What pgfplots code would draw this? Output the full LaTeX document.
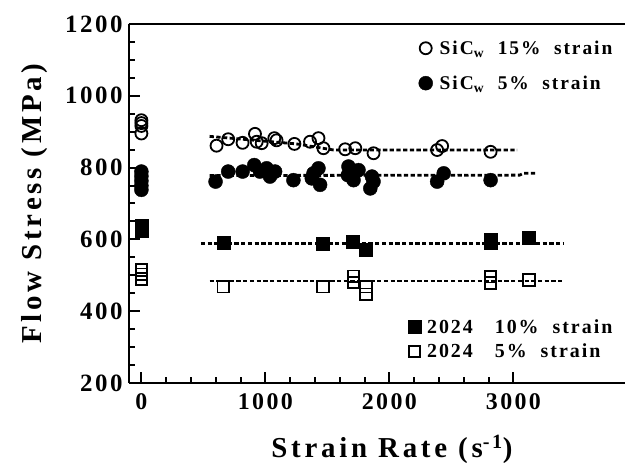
\documentclass[border=0pt]{standalone}
\usepackage{fontspec}
\setmainfont{Liberation Serif}[LetterSpace=10]
\newfontfamily\tickfont{Liberation Serif}[LetterSpace=10]
\newfontfamily\labfont{Liberation Serif}[LetterSpace=13]
\usepackage{pgfplots}
\pgfplotsset{compat=1.18}
\begin{document}
\begin{tikzpicture}
\pgfplotsset{
  base/.style={
    scale only axis, width=496bp, height=359bp,
    xmin=-100, xmax=3900, ymin=200, ymax=1200,
    at={(0,0)}, anchor=south west,
  },
  dline/.style={forget plot, black, line width=2.8bp, dash pattern=on 4.3bp off 2.4bp},
}
\begin{axis}[base,
  axis x line=box, axis y line=left,
  axis line style={-, line width=2.4bp},
  xtick={0,1000,2000,3000}, minor x tick num=4,
  ytick={200,400,...,1200}, minor y tick num=3,
  xtick pos=left, ytick pos=left,
  tick align=inside,
  major tick length=11bp, minor tick length=6bp,
  every tick/.style={black, line width=2bp},
  /pgf/number format/assume math mode=true,
  /pgf/number format/1000 sep={},
  xticklabel style={font=\fontsize{24}{24}\selectfont\tickfont\bfseries, yshift=-7bp},
  yticklabel style={font=\fontsize{25}{25}\selectfont\tickfont\bfseries, xshift=-3bp},
  label style={font=\fontsize{29}{29}\selectfont\labfont\bfseries},
  xlabel={Strain Rate (s\textsuperscript{-1})},
  xlabel style={at={(axis description cs:0.53,0)}, anchor=base, yshift=-74bp},
  ylabel={Flow Stress (MPa)},
  ylabel style={at={(axis description cs:0,0.5)}, anchor=center, yshift=94bp},
  legend cell align=left,
  legend style={draw=none, fill=none, font=\fontsize{19.5}{19.5}\selectfont\bfseries,
    at={(axis description cs:0.985,0.965)}, anchor=north east, row sep=16bp},
]
\draw[line width=2.4bp] (rel axis cs:0,1) -- (rel axis cs:1,1);
\addplot[dline] coordinates {(550,887)(1250,866)(1550,849)(3030,849)};
\addplot[dline] coordinates {(550,778)(3050,779)(3080,784)(3180,784)};
\addplot[only marks, mark=o, mark size=6bp, mark options={line width=1.8bp, black}] coordinates {
(0,932)(0,924)(0,916)(0,895)
(606,861)(700,879)(816,869)(916,894)(930,872)(970,868)(1072,882)(1090,876)
(1234,866)(1360,872)(1428,882)(1468,854)(1643,851)(1725,854)(1872,840)
(2385,849)(2425,860)(2816,844)};
\addlegendentry{\hspace{5bp}SiC\textsubscript{w}\ \ 15\%\ \ strain}
\addplot[only marks, mark=*, mark size=7bp, mark options={black, fill=black}] coordinates {
(0,789)(0,776)(0,763)(0,750)(0,738)
(598,761)(700,789)(816,789)(910,807)(956,789)(1010,798)(1037,775)(1078,789)
(1226,765)(1374,770)(1388,784)(1428,798)(1441,752)(1665,779)(1670,803)
(1711,765)(1751,793)(1846,742)(1859,775)(1872,761)(2385,761)(2438,784)(2816,765)};
\addlegendentry{\hspace{5bp}SiC\textsubscript{w}\ \ 5\%\ \ strain}
\end{axis}
\begin{axis}[base, hide axis,
  legend cell align=left,
  legend style={draw=none, fill=none, font=\fontsize{20}{20}\selectfont\bfseries,
    at={(axis description cs:0.985,0.055)}, anchor=south east, row sep=5bp},
]
\addplot[dline] coordinates {(480,589)(3400,589)};
\addplot[dline] coordinates {(550,484)(3400,484)};
\addplot[only marks, mark=square*, mark size=6.5bp, mark options={black, fill=black}] coordinates {
(0,638)(0,624)(660,591)(1463,589)(1706,594)(1811,570)(2816,600)(2816,592)(3125,605)};
\addlegendentry{\hspace{4bp}2024\hspace{1.1em}10\%\ \ strain}
\addplot[only marks, mark=square, mark size=5.8bp, mark options={black, line width=1.8bp}] coordinates {
(0,515)(0,503)(0,490)(660,468)(1463,468)(1711,497)(1711,480)(1811,468)(1811,447)
(2816,496)(2816,478)(3125,487)};
\addlegendentry{\hspace{4bp}2024\hspace{1.1em}5\%\ \ strain}
\end{axis}
\pgfresetboundingbox
\path (-129bp,-80bp) rectangle (496bp,383bp);
\end{tikzpicture}
\end{document}
